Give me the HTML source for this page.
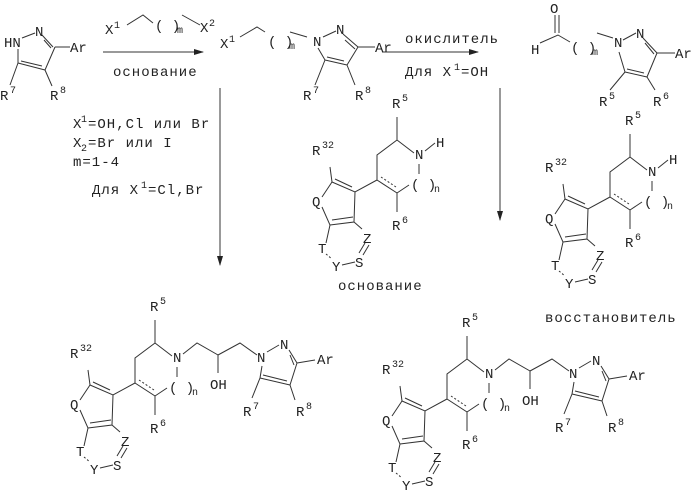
<!DOCTYPE html><html><head><meta charset="utf-8"><style>body{margin:0;background:#fff}svg{display:block}text{font-family:"Liberation Mono",monospace;font-size:14px;fill:#222}.s{font-size:10px}.r{letter-spacing:1px}</style></head><body>
<svg width="699" height="498" viewBox="0 0 699 498" xmlns="http://www.w3.org/2000/svg">
<defs><marker id="a" markerWidth="10" markerHeight="6" refX="9" refY="3" orient="auto"><path d="M0,0 L10,3 L0,6z" fill="#222"/></marker></defs>
<g stroke="#333" stroke-width="1" fill="none">
<path d="M22,38 L35,33 M42,35 L53,47 M44,40 L51,48 M55,47 L70,47 M55,47 L45,70 M45,70 L18,63 M42,66 L21,61 M18,63 L18,49 M18,63 L10,85 M45,70 L52,86"/>
<path d="M103,52 L203,52" marker-end="url(#a)"/>
<path d="M220,88 L220,265" marker-end="url(#a)"/>
<path d="M382,52 L478,52" marker-end="url(#a)"/>
<path d="M500,88 L500,220" marker-end="url(#a)"/>
<path d="M127,25 L143,15 L153,23 M182,15 L200,25"/>
<path d="M240,37 L257,27 L265,32 M290,32 L307,37 M323,37 L336,31 M343,34 L358,47 M345,40 L355,49 M358,47 L375,47 M358,47 L347,65 M347,65 L325,60 M344,61 L327,57 M325,60 L318,48 M325,60 L315,85 M347,65 L355,85"/>
<path d="M555,15 L555,33 M559,15 L559,33 M540,43 L558,35 L570,42 M597,33 L613,38 M623,40 L636,33 M643,38 L657,53 M645,43 L654,54 M657,53 L675,53 M657,53 L647,77 M647,77 L625,72 M644,73 L627,69 M625,72 L619,52 M625,72 L610,90 M647,77 L655,90"/>
</g>
<text x="4" y="47">HN</text><text x="35" y="36">N</text><text x="70" y="52">Ar</text>
<text x="0" y="100">R</text><text x="10" y="93" class="s">7</text><text x="50" y="100">R</text><text x="60" y="93" class="s">8</text>
<text x="105" y="34">X</text><text x="114" y="28" class="s">1</text><text x="155" y="30">( )</text><text x="177" y="33" class="s">m</text><text x="200" y="32">X</text><text x="209" y="26" class="s">2</text>
<text x="113" y="76" class="r">основание</text>
<text x="73" y="128">X</text><text x="81" y="122" class="s">1</text><text x="88" y="128" class="r">=OH,Cl или Br</text>
<text x="73" y="147">X</text><text x="81" y="151" class="s">2</text><text x="88" y="147" class="r">=Br или I</text>
<text x="73" y="166" class="r">m=1-4</text>
<text x="92" y="194" class="r">Для X</text><text x="141" y="188" class="s">1</text><text x="148" y="194" class="r">=Cl,Br</text>
<text x="220" y="48">X</text><text x="229" y="42" class="s">1</text><text x="268" y="46">( )</text><text x="289" y="49" class="s">m</text>
<text x="313" y="46">N</text><text x="336" y="34">N</text><text x="375" y="52">Ar</text>
<text x="303" y="100">R</text><text x="313" y="93" class="s">7</text><text x="355" y="100">R</text><text x="365" y="93" class="s">8</text>
<text x="405" y="43" class="r">окислитель</text>
<text x="405" y="76" class="r">Для X</text><text x="454" y="70" class="s">1</text><text x="461" y="76" class="r">=OH</text>
<text x="550" y="13">O</text><text x="531" y="54">H</text><text x="571" y="52">( )</text><text x="592" y="55" class="s">m</text>
<text x="614" y="47">N</text><text x="636" y="38">N</text><text x="675" y="58">Ar</text>
<text x="599" y="106">R</text><text x="609" y="99" class="s">5</text><text x="653" y="106">R</text><text x="663" y="99" class="s">6</text>
<text x="338" y="290" class="r">основание</text>
<text x="545" y="322" class="r">восстановитель</text>
<g transform="translate(0,0)">
<g stroke="#333" stroke-width="1" fill="none"><path d="M155,320 L155,343 L135,358 L135,383 L155,396 L155,415 M155,396 L167,388 M172,356 L155,343 M177,367 L177,377 M135,383 L113,395 L90,385 L88,370 M113,395 L112,425 L88,428 M111,420 L90,423 M90,385 L80,400 M80,410 L88,428 L84,446 M112,425 L120,432 M100,468 L113,465 M117,456 L123,446 M121,458 L127,448 M110,390 L93,382"/><path d="M139,380 L154,390" stroke-dasharray="2,2"/><path d="M84,457 L90,462" stroke-dasharray="2,2"/></g>
<text x="150" y="311">R</text><text x="160" y="304" class="s">5</text><text x="150" y="433">R</text><text x="160" y="426" class="s">6</text>
<text x="169" y="392">( )</text><text x="192" y="395" class="s">n</text>
<text x="70" y="358">R</text><text x="80" y="351" class="s">32</text><text x="70" y="409">Q</text><text x="76" y="456">T</text><text x="90" y="474">Y</text><text x="113" y="470">S</text><text x="121" y="446">Z</text>
</g>
<g transform="translate(312,16)">
<g stroke="#333" stroke-width="1" fill="none"><path d="M155,320 L155,343 L135,358 L135,383 L155,396 L155,415 M155,396 L167,388 M172,356 L155,343 M177,367 L177,377 M135,383 L113,395 L90,385 L88,370 M113,395 L112,425 L88,428 M111,420 L90,423 M90,385 L80,400 M80,410 L88,428 L84,446 M112,425 L120,432 M100,468 L113,465 M117,456 L123,446 M121,458 L127,448 M110,390 L93,382"/><path d="M139,380 L154,390" stroke-dasharray="2,2"/><path d="M84,457 L90,462" stroke-dasharray="2,2"/></g>
<text x="150" y="311">R</text><text x="160" y="304" class="s">5</text><text x="150" y="433">R</text><text x="160" y="426" class="s">6</text>
<text x="169" y="392">( )</text><text x="192" y="395" class="s">n</text>
<text x="70" y="358">R</text><text x="80" y="351" class="s">32</text><text x="70" y="409">Q</text><text x="76" y="456">T</text><text x="90" y="474">Y</text><text x="113" y="470">S</text><text x="121" y="446">Z</text>
</g>
<g transform="translate(242,-203)">
<g stroke="#333" stroke-width="1" fill="none"><path d="M155,320 L155,343 L135,358 L135,383 L155,396 L155,415 M155,396 L167,388 M172,356 L155,343 M177,367 L177,377 M135,383 L113,395 L90,385 L88,370 M113,395 L112,425 L88,428 M111,420 L90,423 M90,385 L80,400 M80,410 L88,428 L84,446 M112,425 L120,432 M100,468 L113,465 M117,456 L123,446 M121,458 L127,448 M183,354 L193,346 M110,390 L93,382"/><path d="M139,380 L154,390" stroke-dasharray="2,2"/><path d="M84,457 L90,462" stroke-dasharray="2,2"/></g>
<text x="150" y="311">R</text><text x="160" y="304" class="s">5</text><text x="150" y="433">R</text><text x="160" y="426" class="s">6</text>
<text x="173" y="362">N</text><text x="194" y="350">H</text>
<text x="169" y="392">( )</text><text x="192" y="395" class="s">n</text>
<text x="70" y="358">R</text><text x="80" y="351" class="s">32</text><text x="70" y="409">Q</text><text x="76" y="456">T</text><text x="90" y="474">Y</text><text x="113" y="470">S</text><text x="121" y="446">Z</text>
</g>
<g transform="translate(475,-186)">
<g stroke="#333" stroke-width="1" fill="none"><path d="M155,320 L155,343 L135,358 L135,383 L155,396 L155,415 M155,396 L167,388 M172,356 L155,343 M177,367 L177,377 M135,383 L113,395 L90,385 L88,370 M113,395 L112,425 L88,428 M111,420 L90,423 M90,385 L80,400 M80,410 L88,428 L84,446 M112,425 L120,432 M100,468 L113,465 M117,456 L123,446 M121,458 L127,448 M183,354 L193,346 M110,390 L93,382"/><path d="M139,380 L154,390" stroke-dasharray="2,2"/><path d="M84,457 L90,462" stroke-dasharray="2,2"/></g>
<text x="150" y="311">R</text><text x="160" y="304" class="s">5</text><text x="150" y="433">R</text><text x="160" y="426" class="s">6</text>
<text x="173" y="362">N</text><text x="194" y="350">H</text>
<text x="169" y="392">( )</text><text x="192" y="395" class="s">n</text>
<text x="70" y="358">R</text><text x="80" y="351" class="s">32</text><text x="70" y="409">Q</text><text x="76" y="456">T</text><text x="90" y="474">Y</text><text x="113" y="470">S</text><text x="121" y="446">Z</text>
</g>
<g transform="translate(0,0)">
<g stroke="#333" stroke-width="1" fill="none"><path d="M183,354 L197,343 L218,355 L218,373 M218,355 L240,343 L257,355 M267,352 L279,345 M289,350 L297,363 M290,355 L294,365 M297,363 L315,360 M297,363 L290,385 M290,385 L260,378 M287,381 L263,375 M260,378 L262,366 M260,378 L252,398 M290,385 L295,400"/></g>
<text x="173" y="362">N</text><text x="210" y="389">OH</text><text x="257" y="362">N</text><text x="280" y="349">N</text><text x="317" y="364">Ar</text>
<text x="243" y="416">R</text><text x="253" y="409" class="s">7</text><text x="296" y="416">R</text><text x="306" y="409" class="s">8</text>
</g>
<g transform="translate(312,16)">
<g stroke="#333" stroke-width="1" fill="none"><path d="M183,354 L197,343 L218,355 L218,373 M218,355 L240,343 L257,355 M267,352 L279,345 M289,350 L297,363 M290,355 L294,365 M297,363 L315,360 M297,363 L290,385 M290,385 L260,378 M287,381 L263,375 M260,378 L262,366 M260,378 L252,398 M290,385 L295,400"/></g>
<text x="173" y="362">N</text><text x="210" y="389">OH</text><text x="257" y="362">N</text><text x="280" y="349">N</text><text x="317" y="364">Ar</text>
<text x="243" y="416">R</text><text x="253" y="409" class="s">7</text><text x="296" y="416">R</text><text x="306" y="409" class="s">8</text>
</g>
</svg>
</body></html>
